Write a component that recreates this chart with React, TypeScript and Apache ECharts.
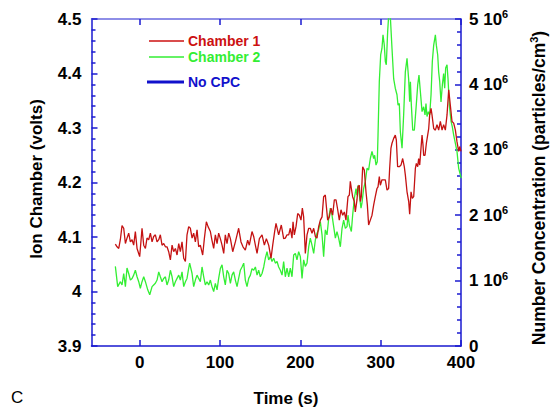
import React, { useEffect, useRef } from "react";
import * as echarts from "echarts";

// Chamber 1 (red) ion chamber voltage: [time s, volts]
const chamber1: [number, number][] = [
[-30.3,4.087],[-28.2,4.082],[-26.1,4.079],[-24.1,4.095],[-22.0,4.121],[-19.9,4.116],[-17.8,4.088],[-15.8,4.098],[-13.7,4.107],[-11.6,4.091],[-9.5,4.095],[-7.5,4.085],[-5.4,4.110],[-3.3,4.079],[0.0,4.064],[2.9,4.116],[5.0,4.085],[7.1,4.079],[9.1,4.098],[11.2,4.095],[13.3,4.107],[15.4,4.091],[17.4,4.101],[19.5,4.104],[21.6,4.091],[23.7,4.095],[25.7,4.104],[27.8,4.085],[29.9,4.088],[32.0,4.082],[34.0,4.082],[36.1,4.073],[38.2,4.058],[40.3,4.085],[42.3,4.073],[44.4,4.079],[46.5,4.067],[48.6,4.088],[50.6,4.073],[52.7,4.091],[54.8,4.061],[56.9,4.055],[58.9,4.104],[61.0,4.119],[63.1,4.116],[65.2,4.098],[67.2,4.107],[69.3,4.091],[71.4,4.113],[73.4,4.082],
[75.5,4.085],[78.4,4.067],[80.5,4.097],[83.0,4.128],[85.1,4.119],[88.0,4.110],[90.0,4.094],[92.1,4.079],[94.2,4.104],[96.3,4.088],[98.3,4.107],[100.4,4.097],[102.5,4.085],[104.6,4.070],[106.6,4.104],[108.7,4.088],[110.8,4.107],[112.9,4.097],[115.8,4.073],[119.1,4.091],[121.2,4.104],[123.2,4.116],[126.1,4.091],[128.6,4.082],[131.5,4.076],[134.4,4.094],[136.5,4.085],[139.8,4.110],[141.9,4.101],[144.0,4.085],[146.1,4.070],[149.0,4.097],[152.3,4.104],[155.2,4.085],[157.7,4.097],[160.6,4.085],[163.5,4.061],[165.6,4.085],[168.0,4.110],[169.7,4.125],[173.0,4.104],[176.3,4.122],[179.2,4.097],
[181.3,4.098],[183.4,4.104],[185.5,4.104],[187.5,4.116],[189.6,4.098],[190.9,4.128],[192.5,4.104],[194.6,4.119],[196.7,4.143],[198.8,4.140],[200.8,4.131],[202.5,4.153],[204.1,4.137],[206.2,4.070],[208.3,4.104],[210.4,4.116],[212.4,4.116],[214.5,4.107],[216.6,4.116],[218.7,4.101],[220.7,4.098],[222.8,4.119],[224.9,4.131],[227.0,4.137],[229.0,4.174],[231.1,4.177],[232.4,4.156],[234.0,4.131],[236.1,4.137],[238.2,4.153],[240.2,4.140],[242.3,4.168],[244.4,4.168],[246.5,4.150],[248.5,4.131],[250.6,4.150],[252.7,4.140],[254.8,4.146],[256.8,4.131],
[259.3,4.174],[261.0,4.177],[262.2,4.202],[263.5,4.189],[265.1,4.174],[267.2,4.165],[268.4,4.146],[270.5,4.168],[271.8,4.192],[273.4,4.195],[274.7,4.165],[275.9,4.174],[277.6,4.229],[279.6,4.223],[281.7,4.183],[283.4,4.159],[285.0,4.122],[287.1,4.131],[289.2,4.140],[291.3,4.159],[293.3,4.174],[295.4,4.189],[296.7,4.192],[298.3,4.211],[299.6,4.195],[301.6,4.205],[303.7,4.205],[305.8,4.205],[307.9,4.186],[309.9,4.189],[311.2,4.226],[312.8,4.263],[314.1,4.272],[316.2,4.281],[318.2,4.287],[319.5,4.278],[321.1,4.229],[323.2,4.229],[325.3,4.232],[327.4,4.244],[329.4,4.229],
[330.7,4.214],[332.8,4.183],[334.9,4.165],[336.1,4.142],[337.8,4.183],[339.4,4.171],[341.1,4.174],[343.2,4.226],[344.4,4.235],[346.1,4.229],[347.3,4.244],[348.6,4.232],[350.2,4.263],[351.5,4.287],[352.7,4.269],[353.5,4.250],[355.2,4.250],[356.9,4.272],[358.5,4.287],[359.8,4.299],[361.0,4.324],[362.7,4.336],[363.9,4.324],[366.0,4.299],[368.1,4.296],[370.1,4.306],[372.2,4.296],[374.3,4.312],[376.4,4.296],[378.4,4.306],[380.5,4.296],[382.6,4.324],[384.7,4.370],[386.7,4.342],[388.8,4.312],[390.9,4.309],[393.0,4.296],[395.0,4.275],[397.1,4.257],[398.4,4.266],[400.0,4.257]
];

// Chamber 2 (green) ion chamber voltage: [time s, volts]
const chamber2: [number, number][] = [
[-30.3,4.046],[-27.4,4.009],[-24.0,4.018],[-22.0,4.012],[-19.9,4.033],[-17.8,4.009],[-15.8,4.043],[-13.7,4.033],[-11.6,4.021],[-9.5,4.024],[-7.5,4.030],[-5.4,4.039],[-3.3,4.027],[-1.2,4.018],[0.8,4.006],[2.9,4.018],[5.0,4.027],[7.1,4.018],[10.0,4.003],[12.5,3.994],[15.4,4.009],[17.4,4.012],[19.5,4.015],[21.6,4.021],[23.7,4.036],[25.7,4.027],[27.8,4.018],[29.9,4.024],[32.0,4.027],[34.0,4.012],[36.1,4.021],[38.2,4.039],[40.3,4.027],[42.3,4.009],[44.4,4.018],[46.5,4.024],[48.6,4.030],[50.6,4.021],[52.7,4.036],[54.8,4.009],[56.9,4.018],[58.9,4.024],[61.0,4.043],[62.2,4.052],[65.2,4.033],[67.2,4.009],[69.3,4.021],[71.4,4.030],[73.4,4.024],
[75.5,4.018],[77.6,4.045],[79.7,4.027],[81.7,4.012],[83.8,4.018],[85.9,4.012],[88.0,4.021],[90.0,4.009],[92.1,4.000],[94.2,4.015],[96.3,4.003],[98.3,4.024],[100.4,4.042],[102.5,4.049],[104.6,4.027],[106.6,4.012],[108.7,4.039],[110.8,4.033],[112.9,4.015],[114.9,4.030],[117.0,4.036],[119.1,4.021],[121.2,4.009],[123.2,4.024],[125.3,4.039],[127.4,4.045],[129.5,4.052],[131.5,4.021],[133.6,4.009],[135.7,4.024],[137.8,4.030],[139.8,4.042],[141.9,4.039],[144.0,4.045],[146.1,4.030],[148.1,4.039],[150.2,4.027],[152.3,4.033],[154.4,4.045],[156.4,4.061],[158.5,4.073],[160.6,4.058],[162.7,4.064],[164.7,4.055],[166.8,4.061],[168.9,4.052],[171.0,4.055],[173.0,4.045],[175.1,4.039],[177.2,4.030],[179.2,4.055],
[181.3,4.027],[183.4,4.043],[185.5,4.027],[187.5,4.043],[189.6,4.027],[191.7,4.067],[193.8,4.070],[195.8,4.058],[197.9,4.073],[200.0,4.064],[202.1,4.024],[204.1,4.058],[206.2,4.046],[208.3,4.052],[210.4,4.082],[212.4,4.098],[214.5,4.085],[216.6,4.070],[218.7,4.095],[220.7,4.107],[222.8,4.113],[224.9,4.128],[227.0,4.104],[229.0,4.064],[231.1,4.113],[233.2,4.104],[235.3,4.134],[237.3,4.153],[239.4,4.140],[241.5,4.119],[243.6,4.098],[245.6,4.110],[247.7,4.098],[249.8,4.082],[251.9,4.116],[253.9,4.131],[256.0,4.116],[258.1,4.119],
[259.3,4.140],[261.0,4.122],[262.2,4.116],[263.5,4.110],[265.1,4.140],[267.2,4.171],[269.3,4.189],[270.5,4.177],[271.8,4.195],[273.4,4.177],[275.5,4.153],[276.7,4.162],[278.8,4.189],[280.9,4.202],[283.0,4.226],[285.0,4.223],[287.1,4.244],[289.2,4.257],[291.3,4.244],[292.5,4.250],[294.2,4.232],[295.8,4.238],[296.7,4.287],[298.3,4.385],[300.0,4.434],[301.6,4.446],[302.9,4.471],[304.5,4.452],[305.8,4.422],[307.0,4.416],[308.7,4.477],[309.9,4.505],[312.0,4.505],[314.1,4.446],[316.2,4.390],[318.2,4.373],[320.3,4.361],[321.6,4.342],[323.2,4.345],
[324.5,4.293],[326.6,4.263],[328.6,4.324],[330.7,4.403],[332.8,4.428],[334.9,4.388],[336.1,4.348],[337.0,4.385],[338.2,4.342],[339.9,4.296],[341.9,4.296],[344.0,4.336],[346.1,4.379],[347.7,4.397],[349.4,4.367],[351.5,4.330],[353.5,4.339],[355.2,4.324],[356.4,4.345],[357.7,4.321],[359.4,4.330],[361.0,4.324],[362.7,4.361],[364.3,4.422],[366.0,4.452],[368.1,4.471],[369.3,4.452],[371.0,4.434],[372.2,4.403],[373.5,4.385],[375.1,4.348],[376.8,4.379],[378.4,4.400],[379.7,4.373],[380.9,4.410],[382.6,4.416],[383.8,4.391],[385.5,4.342],[387.6,4.312],[389.2,4.302],[390.9,4.287],[393.0,4.272],[395.0,4.257],[397.1,4.226],[399.2,4.214],[400.4,4.208]
];

const xTicks = [0, 100, 200, 300, 400];
const legendItems = [
  { name: "Chamber 1", color: "#cc1111" },
  { name: "Chamber 2", color: "#33ee33" },
  { name: "No CPC", color: "#1111cc" },
];

const FONT = "'Liberation Sans', Arial, Helvetica, sans-serif";
const AXIS_BLUE = "#1a1ad0";

export default function App() {
  const ref = useRef<HTMLDivElement>(null);
  useEffect(() => {
    if (!ref.current) return;
    const chart = echarts.init(ref.current, undefined, { renderer: "svg" });
    const tickLabel = { color: "#000", fontFamily: FONT, fontWeight: "bold" as const, fontSize: 17 };
    chart.setOption({
      animation: false,
      backgroundColor: "#fff",
      grid: { left: 91.5, right: 94, top: 19, bottom: 68, containLabel: false },
      xAxis: [
        {
          type: "value", min: -60, max: 400, position: "bottom",
          axisLine: { onZero: false, lineStyle: { color: AXIS_BLUE, width: 1.5 } },
          axisTick: { inside: true, length: 6, customValues: xTicks, lineStyle: { color: AXIS_BLUE, width: 1.5 } },
          axisLabel: { ...tickLabel, margin: 8, customValues: xTicks },
          splitLine: { show: false },
        },
        {
          type: "value", min: -60, max: 400, position: "top",
          axisLine: { onZero: false, lineStyle: { color: "#6a6ae0", width: 1.5 } },
          axisTick: { inside: true, length: 6, customValues: xTicks, lineStyle: { color: AXIS_BLUE, width: 1.5 } },
          axisLabel: { show: false },
          splitLine: { show: false },
        },
      ],
      yAxis: [
        {
          type: "value", min: 3.9, max: 4.5, interval: 0.1, position: "left",
          axisLine: { show: true, onZero: false, lineStyle: { color: AXIS_BLUE, width: 1.5 } },
          axisTick: { inside: true, length: 6, lineStyle: { color: AXIS_BLUE, width: 1.5 } },
          minorTick: { show: true, splitNumber: 5, length: 4, lineStyle: { color: AXIS_BLUE, width: 1.5 } },
          axisLabel: { ...tickLabel, margin: 10 },
          splitLine: { show: false },
        },
        {
          type: "value", min: 0, max: 5e6, interval: 1e6, position: "right",
          axisLine: { show: true, onZero: false, lineStyle: { color: AXIS_BLUE, width: 1.5 } },
          axisTick: { inside: true, length: 6, lineStyle: { color: AXIS_BLUE, width: 1.5 } },
          minorTick: { show: true, splitNumber: 5, length: 4, lineStyle: { color: AXIS_BLUE, width: 1.5 } },
          axisLabel: {
            ...tickLabel, margin: 8,
            formatter: (v: number) => (v === 0 ? "{b|0}" : `{b|${Math.round(v / 1e6)} 10}{s|6}`),
            rich: {
              b: { fontFamily: FONT, fontWeight: "bold", fontSize: 17, color: "#000" },
              s: { fontFamily: FONT, fontWeight: "bold", fontSize: 11, color: "#000", padding: [0, 0, 10, 0] },
            },
          },
          splitLine: { show: false },
        },
      ],
      series: [
        {
          name: "Chamber 1", type: "line", xAxisIndex: 0, yAxisIndex: 0, data: chamber1,
          showSymbol: false, symbol: "none", lineStyle: { color: "#c41212", width: 1.3 }, clip: true, z: 3,
        },
        {
          name: "Chamber 2", type: "line", xAxisIndex: 0, yAxisIndex: 0, data: chamber2,
          showSymbol: false, symbol: "none", lineStyle: { color: "#33ee33", width: 1.3 }, clip: true, z: 2,
        },
      ],
      graphic: [
        ...legendItems.map((it, i) => {
          const y = i === 2 ? 82 : 41 + i * 16;
          return {
            type: "group",
            children: [
              { type: "line", shape: { x1: i === 2 ? 147 : 149, y1: y, x2: 184, y2: y }, style: { stroke: it.color, lineWidth: i === 2 ? 3 : 1.3 } },
              { type: "text", x: 188, y, style: { text: it.name, fill: it.color, font: `bold 14px ${FONT}`, textVerticalAlign: "middle" } },
            ],
          };
        }),
        {
          type: "text", x: 36, y: 179, rotation: Math.PI / 2,
          style: { text: "Ion Chamber (volts)", fill: "#000", font: `bold 17px ${FONT}`, textAlign: "center", textVerticalAlign: "middle" },
        },
        {
          type: "text", x: 539, y: 188, rotation: Math.PI / 2,
          style: {
            text: "{b|Number Concentration (particles/cm}{s|3}{b|)}",
            textAlign: "center", textVerticalAlign: "middle",
            rich: {
              b: { fontFamily: FONT, fontWeight: "bold", fontSize: 17.5, fill: "#000", color: "#000" },
              s: { fontFamily: FONT, fontWeight: "bold", fontSize: 11, fill: "#000", color: "#000", padding: [0, 0, 10, 0] },
            },
          },
        },
        {
          type: "text", x: 286, y: 398,
          style: { text: "Time (s)", fill: "#000", font: `bold 17px ${FONT}`, textAlign: "center", textVerticalAlign: "middle" },
        },
        {
          type: "text", x: 11, y: 397,
          style: { text: "C", fill: "#000", font: `17px ${FONT}`, textAlign: "left", textVerticalAlign: "middle" },
        },
      ],
    });
    return () => chart.dispose();
  }, []);
  return <div ref={ref} style={{ width: 555, height: 414, position: "absolute", left: 0, top: 0 }} />;
}
